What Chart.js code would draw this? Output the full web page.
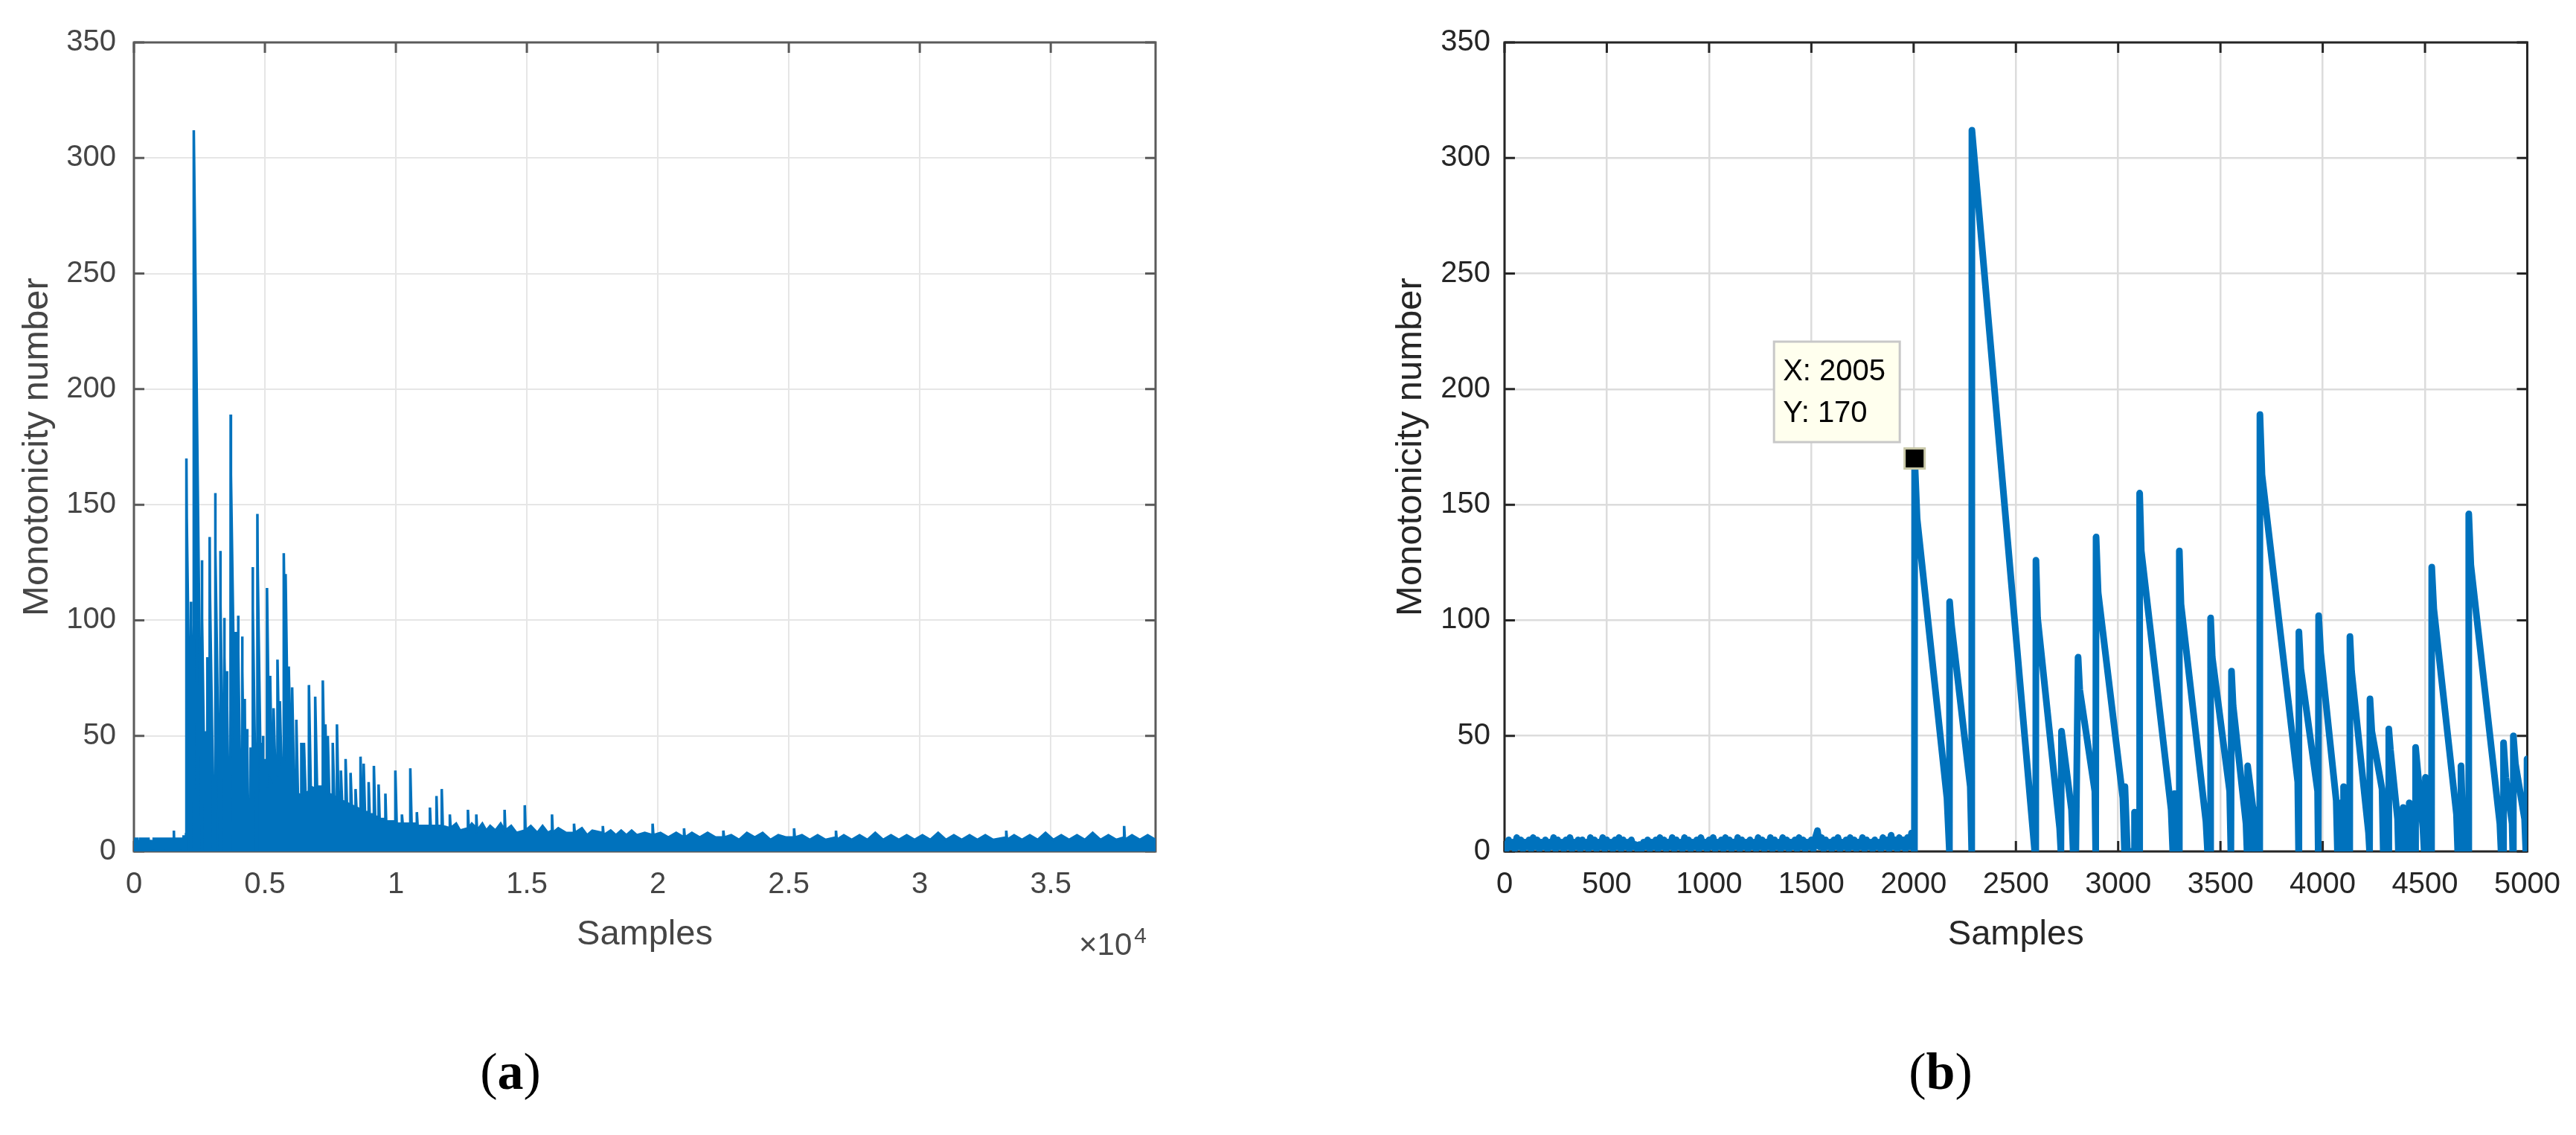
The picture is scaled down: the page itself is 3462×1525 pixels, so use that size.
<!DOCTYPE html>
<html lang="en">
<head>
<meta charset="UTF-8">
<title>Monotonicity number</title>
<script src="https://cdn.jsdelivr.net/npm/chart.js"></script>
<style>
  html, body { margin: 0; padding: 0; background: #fff; }
  #page { position: relative; width: 3462px; height: 1525px; overflow: hidden; }
  canvas { position: absolute; top: 0; }
  #chartA { left: 0; }
  #chartB { left: 1731px; }
  .note { position: absolute; white-space: nowrap; }
  #exp { left: 1450px; top: 1248px; font: 42px 'Liberation Sans', Arial, sans-serif; line-height: 42px; color: #4a4a4a; }
  #exp span { font-size: 30px; position: relative; top: -16px; margin-left: 3px; }
  .panel { top: 1405px; font: 70px 'Liberation Serif', 'DejaVu Serif', serif; line-height: 70px; color: #000; transform: translateX(-50%); }
</style>
</head>
<body>
<div id="page">
  <canvas id="chartA" width="1731" height="1525"></canvas>
  <canvas id="chartB" width="1731" height="1525"></canvas>
  <div class="note" id="exp">&times;10<span>4</span></div>
  <div class="note panel" style="left:686px">(<b>a</b>)</div>
  <div class="note panel" style="left:2608px">(<b>b</b>)</div>
</div>
<script>
// samples 0..2000, one reading every 10 samples (quiet part before the first event)
const noiseStep = 10;
const noiseY = [
  3,1,5,2,4,1,6,2,5,1,4,2,5,1,6,2,5,1,4,2,
  5,1,4,2,6,1,5,2,4,1,5,2,6,1,4,2,5,1,5,2,
  4,1,6,2,5,1,4,2,6,1,5,2,4,1,5,2,6,1,5,2,
  4,1,5,2,3,1,3,1,4,2,5,1,4,2,5,1,6,2,5,1,
  4,2,6,1,5,2,4,1,6,2,5,1,4,2,5,1,6,2,4,1,
  5,2,6,1,4,2,5,1,6,2,5,1,4,2,6,1,5,2,4,1,
  5,2,4,1,6,2,5,1,4,2,6,1,5,2,4,1,6,2,5,1,
  4,2,5,1,6,2,5,1,4,2,5,1,6,9,2,6,1,5,2,4,
  1,5,2,6,1,4,2,5,1,6,2,5,1,4,2,6,1,5,2,4,
  1,5,2,4,1,6,2,5,1,7,2,5,1,6,2,5,1,6,2,8,
  2
];

// sawtooth events, samples 2004..5000 (vertices of the trace)
const sawX = [2004,2005,2017,2163,2175,2176,2185,2277,2284,2285,2592,2597,2598,2606,2714,2720,2723,2772,2780,2786,2793,
  2804,2812,2886,2890,2892,2902,3023,3031,3033,3045,3078,3080,3092,3104,3105,3113,3259,3267,3274,3275,3292,3298,3299,3307,
  3429,3437,3451,3452,3460,3545,3551,3553,3554,3562,3625,3630,3632,3633,3660,3666,3672,3688,3692,3693,3703,3878,3882,3883,
  3884,3893,3975,3978,3979,3980,3990,4066,4072,4077,4078,4090,4101,4102,4118,4132,4133,4141,4224,4229,4230,4231,4240,4290,
  4296,4322,4323,4331,4366,4370,4392,4393,4405,4422,4423,4440,4453,4454,4490,4496,4501,4502,4515,4532,4533,4543,4654,4660,
  4675,4676,4690,4713,4714,4724,4866,4872,4883,4884,4895,4926,4929,4931,4932,4942,4987,4993,4998,4999,5000];
const sawY = [0,170,144,23,0,108,98,28,0,312,0,0,126,101,10,0,52,18,0,17,0,
  84,70,26,0,136,112,23,0,28,0,0,17,0,0,155,130,18,0,0,25,0,0,130,107,
  13,0,0,101,84,26,0,0,78,63,12,0,0,37,18,0,18,0,0,189,163,30,0,0,
  95,79,26,0,0,102,86,22,0,0,21,0,0,28,0,0,93,78,8,0,0,66,52,27,
  0,0,53,44,14,0,0,19,0,0,21,0,0,45,10,0,0,32,0,0,123,105,16,0,
  0,37,0,0,146,124,12,0,0,47,32,12,0,0,50,38,14,0,0,40,38];

// rest of the record, samples 5000..39000 (only shown in panel a)
const tailX = [5040,5079,5080,5170,5199,5200,5265,5329,5330,5400,5479,5480,5550,5569,5570,5630,5719,5720,5780,5789,5790,
  5880,5909,5910,5985,6039,6040,6110,6199,6200,6260,6389,6390,6435,6489,6490,6550,6679,6680,6750,6919,6920,6990,7209,7210,
  7280,7309,7310,7365,7399,7400,7455,7589,7590,7645,7749,7750,7805,7899,7900,7945,8079,8080,8130,8269,8270,8315,8459,8460,
  8495,8649,8650,8700,8769,8770,8820,8959,8960,9000,9159,9160,9210,9339,9340,9380,9599,9600,9630,9979,9980,10030,10229,
  10230,10260,10549,10550,10600,10799,10800,10830,11299,11300,11330,11549,11550,11580,11749,11750,11790,
  12059,12060,12090,12300,12450,12749,12750,12780,12900,13069,13070,13100,13300,13450,13600,13800,14000,14149,14150,14180,
  14400,14600,14919,14920,14950,15150,15400,15600,15800,15959,15960,15990,16200,16500,16799,16800,16830,17100,17300,17500,
  17899,17900,17930,18200,18400,18600,18800,19000,19200,19500,19799,19800,19830,20100,20400,20700,20999,21000,21030,21300,
  21600,21900,22200,22499,22500,22530,22800,23100,23400,23700,24000,24300,24600,24900,25199,25200,25230,25500,25800,26100,
  26400,26799,26800,26830,27100,27400,27700,28000,28300,28600,28900,29200,29500,29800,30100,30400,30700,31000,31300,31600,
  31900,32200,32500,32800,33299,33300,33330,33600,33900,34200,34500,34800,35100,35400,35700,36000,36300,36600,36900,37200,
  37500,37799,37800,37830,38100,38400,38700,39000];
const tailY = [30,28,114,35,33,76,32,30,62,34,33,83,40,40,65,36,36,129,75,72,120,
  45,44,80,40,38,71,30,28,57,25,24,47,26,25,47,25,26,72,28,27,67,28,28,74,
  30,28,55,26,26,50,25,24,47,24,23,55,23,22,35,22,21,40,21,20,34,20,19,27,
  19,18,41,18,18,38,17,17,30,16,16,37,15,15,29,14,14,25,13,13,35,12,12,
  16,12,12,36,12,12,17,11,11,19,11,11,24,11,11,27,11,
  10,16,10,12,9,10,18,10,12,10,16,9,12,9,11,9,12,9,18,9,
  11,8,9,20,9,11,8,11,8,9,16,8,10,8,8,12,8,10,7,9,
  8,11,7,9,7,9,7,9,7,8,7,12,7,8,6,8,6,10,6,8,
  6,8,6,6,9,6,7,5,8,6,8,5,7,6,6,10,6,7,5,7,
  5,6,9,5,7,5,7,5,8,5,7,5,7,5,7,5,8,5,7,5,
  7,5,7,5,6,9,5,7,5,7,5,8,5,7,5,7,5,8,5,7,
  5,6,11,5,7,5,7,5];

// tick positions
const xTicksA = [0, 5000, 10000, 15000, 20000, 25000, 30000, 35000];
const xTicksB = [0, 500, 1000, 1500, 2000, 2500, 3000, 3500, 4000, 4500, 5000];
const yTicks = [0, 50, 100, 150, 200, 250, 300, 350];

const tipX = 2005, tipY = 170;

const BLUE = '#0072BD';
Chart.defaults.font.family = "'Liberation Sans', Arial, sans-serif";

const noisePts = noiseY.map((v, i) => ({ x: i * noiseStep, y: v }));
const sawPts = sawX.map((x, i) => ({ x: x, y: sawY[i] }));
const tailPts = tailX.map((x, i) => ({ x: x, y: tailY[i] }));

// matlab style box with inward ticks on all four sides
const axesBox = {
  id: 'axesBox',
  beforeDatasetsDraw(chart, args, opts) {
    const { ctx, chartArea: a, scales: { x, y } } = chart;
    ctx.save();
    ctx.strokeStyle = opts.color;
    ctx.lineWidth = opts.width;
    ctx.beginPath();
    x.ticks.forEach(t => {
      const px = x.getPixelForValue(t.value);
      ctx.moveTo(px, a.bottom); ctx.lineTo(px, a.bottom - opts.tick);
      ctx.moveTo(px, a.top); ctx.lineTo(px, a.top + opts.tick);
    });
    y.ticks.forEach(t => {
      const py = y.getPixelForValue(t.value);
      ctx.moveTo(a.left, py); ctx.lineTo(a.left + opts.tick, py);
      ctx.moveTo(a.right, py); ctx.lineTo(a.right - opts.tick, py);
    });
    ctx.stroke();
    ctx.strokeRect(a.left, a.top, a.width, a.height);
    ctx.restore();
  }
};

const dataTip = {
  id: 'dataTip',
  afterDatasetsDraw(chart) {
    const { ctx, scales: { x, y } } = chart;
    const px = x.getPixelForValue(tipX), py = y.getPixelForValue(tipY);
    const bx = px - 189, by = py - 157;
    ctx.save();
    ctx.fillStyle = '#ffffee';
    ctx.fillRect(bx, by, 169, 135);
    ctx.strokeStyle = '#c8c8c8';
    ctx.lineWidth = 3;
    ctx.strokeRect(bx, by, 169, 135);
    ctx.fillStyle = '#000';
    ctx.font = "40px 'Liberation Sans', Arial, sans-serif";
    ctx.textBaseline = 'middle';
    ctx.fillText('X: ' + tipX, bx + 12, by + 41);
    ctx.fillText('Y: ' + tipY, bx + 12, by + 97);
    ctx.fillStyle = '#c9c8a8';
    ctx.fillRect(px - 15, py - 15, 30, 30);
    ctx.fillStyle = '#000';
    ctx.fillRect(px - 12, py - 12, 24, 24);
    ctx.restore();
  }
};

function makeChart(id, cfg) {
  return new Chart(document.getElementById(id), {
    type: 'line',
    data: { datasets: [cfg.dataset] },
    options: {
      responsive: false,
      animation: false,
      devicePixelRatio: 1,
      layout: { padding: cfg.padding },
      plugins: {
        legend: { display: false },
        tooltip: { enabled: false },
        axesBox: { color: cfg.axisColor, width: 3, tick: 14 }
      },
      scales: {
        x: {
          type: 'linear', min: 0, max: cfg.xMax,
          afterBuildTicks: s => { s.ticks = cfg.xTicks.map(v => ({ value: v })); },
          ticks: { padding: 21, maxRotation: 0, autoSkip: false,
                   color: cfg.textColor, font: { size: 40 }, callback: cfg.xFmt },
          grid: { color: cfg.gridColor, lineWidth: cfg.gridWidth, drawTicks: false },
          border: { display: false },
          title: { display: true, text: 'Samples', color: cfg.textColor, font: { size: 47 }, padding: 0 },
          afterFit: s => { s.height = 140; }
        },
        y: {
          min: 0, max: 350,
          afterBuildTicks: s => { s.ticks = yTicks.map(v => ({ value: v })); },
          ticks: { padding: cfg.yPad, color: cfg.textColor, font: { size: 40 }, callback: v => String(v) },
          grid: { color: cfg.gridColor, lineWidth: cfg.gridWidth, drawTicks: false },
          border: { display: false },
          title: { display: true, text: 'Monotonicity number', color: cfg.textColor, font: { size: 49 },
                   padding: { top: cfg.titlePad, bottom: 0 } },
          afterFit: s => { s.width = cfg.yWidth; }
        }
      }
    },
    plugins: cfg.plugins
  });
}

// (a) whole record
makeChart('chartA', {
  dataset: {
    data: noisePts.concat(sawPts, tailPts),
    borderColor: BLUE, backgroundColor: BLUE, borderWidth: 3.5, fill: 'origin',
    pointRadius: 0, tension: 0
  },
  padding: { left: 0, right: 178, top: 57, bottom: 241 },
  xMax: 39000, xTicks: xTicksA, xFmt: v => String(v / 10000),
  yWidth: 180, yPad: 24, titlePad: 21,
  textColor: '#454545', axisColor: '#5a5a5a', gridColor: '#e6e6e6', gridWidth: 2,
  plugins: [axesBox]
});

// (b) first 5000 samples
makeChart('chartB', {
  dataset: {
    data: noisePts.concat(sawPts),
    borderColor: BLUE, borderWidth: 9, fill: false,
    borderJoinStyle: 'round', borderCapStyle: 'round',
    pointRadius: 0, tension: 0
  },
  padding: { left: 0, right: 65, top: 57, bottom: 241 },
  xMax: 5000, xTicks: xTicksB, xFmt: v => String(v),
  yWidth: 291, yPad: 19, titlePad: 136,
  textColor: '#262626', axisColor: '#262626', gridColor: '#dcdcdc', gridWidth: 2.5,
  plugins: [axesBox, dataTip]
});
</script>
</body>
</html>
